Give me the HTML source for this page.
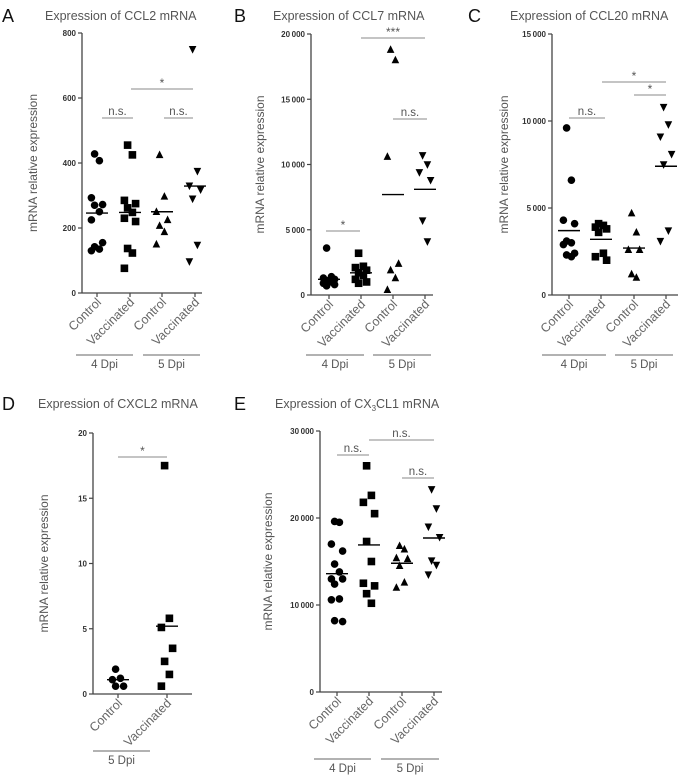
<!DOCTYPE html>
<html><head><meta charset="utf-8">
<style>
body{margin:0;background:#fff;}
svg{display:block;font-family:"Liberation Sans",sans-serif;}
</style></head>
<body>
<svg id="fig" width="696" height="780"></svg>
<script>
// ---- data ----
const A_ctrl4=[428,407,293,272,270,250,225,155,142,135,130];
const A_vacc4=[455,425,285,275,262,248,230,220,137,123,76];
const A_ctrl5=[425,297,250,225,207,188,150];
const A_vacc5=[750,375,330,318,290,148,97];
const A_means=[246,248,250,329];
const B_ctrl4=[3600,1400,1300,1200,1100,1000,900,800,700];
const B_vacc4=[3200,2200,2100,1900,1700,1500,1200,1000,900];
const B_ctrl5=[18800,18000,10600,2400,1900,1300,400];
const B_vacc5=[10700,10000,9400,8800,5700,4100];
const B_means=[1200,1700,7700,8100];
const C_ctrl4=[9600,6600,4300,4100,3100,3000,2900,2400,2300,2200];
const C_vacc4=[4100,4000,3900,3800,3600,2400,2200,2000];
const C_ctrl5=[4700,3600,2600,2600,1200,1000];
const C_vacc5=[10800,9800,9100,8100,7500,3700,3100];
const C_means=[3700,3200,2700,7400];
const D_ctrl=[1.9,1.2,1.1,0.6,0.6];
const D_vacc=[17.5,5.8,5.1,3.5,2.5,1.5,0.6];
const D_means=[1.1,5.2];
const E_ctrl4=[19600,19500,17000,16200,14700,13800,13000,13000,12400,10700,10600,8100,8200];
const E_vacc4=[26000,22600,21800,20500,17300,15000,12500,12200,11300,10200];
const E_ctrl5=[16800,16400,15400,15300,14500,12600,12000];
const E_vacc5=[23300,21100,19000,17800,15100,14600,13500];
const E_means=[13600,16900,14800,17700];
const A_ticks=[0,200,400,600,800];
const B_ticks=[0,5000,10000,15000,20000];
const C_ticks=[0,5000,10000,15000];
const D_ticks=[0,5,10,15,20];
const E_ticks=[0,10000,20000,30000];
const catLabels4=["Control","Vaccinated","Control","Vaccinated"];
const catLabels2=["Control","Vaccinated"];

const NS="http://www.w3.org/2000/svg";
const svg=document.getElementById('fig');
function mk(tag,attrs,parent,txt){const e=document.createElementNS(NS,tag);for(const k in attrs)e.setAttribute(k,attrs[k]);if(txt!==undefined)e.textContent=txt;(parent||svg).appendChild(e);return e;}
function fmt(v){if(v>=10000){const s=String(v);return s.slice(0,s.length-3)+"\u2009"+s.slice(-3);} if(v>=1000){return String(v).slice(0,1)+"\u2009"+String(v).slice(1);} return String(v);}

function marker(g,shape,x,y){
  const s=3.8;let e;
  if(shape==='circle') e=mk('circle',{cx:x,cy:y,r:s,fill:'#000'},g);
  else if(shape==='square') e=mk('rect',{x:x-s,y:y-s,width:2*s,height:2*s,fill:'#000'},g);
  else if(shape==='up') e=mk('polygon',{points:`${x},${y-s-0.6} ${x-s},${y+s-0.6} ${x+s},${y+s-0.6}`,fill:'#000'},g);
  else e=mk('polygon',{points:`${x},${y+s+0.6} ${x-s},${y-s+0.6} ${x+s},${y-s+0.6}`,fill:'#000'},g);
  
  
}

function panel(o){
  const g=mk('g',{});
  const y=v=>o.y0-(v/o.max)*(o.y0-o.yTop);
  mk('text',{x:o.letterX,y:o.titleY+2,'font-size':18,fill:'#111',},g,o.letter);
  const t=mk('text',{x:o.titleX,y:o.titleY,'font-size':12.5,fill:'#555',},g);
  t.innerHTML=o.title;
  mk('line',{x1:o.ax,y1:o.yTop,x2:o.ax,y2:o.y0,stroke:'#444','stroke-width':1.3,},g);
  mk('line',{x1:o.ax,y1:o.y0,x2:o.axEnd,y2:o.y0,stroke:'#444','stroke-width':1.3,},g);
  o.ticks.forEach(v=>{
    mk('line',{x1:o.ax-4,y1:y(v),x2:o.ax,y2:y(v),stroke:'#444','stroke-width':1.2},g);
    mk('text',{x:o.ax-6,y:y(v)+3,'font-size':8,'font-weight':'bold',fill:'#333','text-anchor':'end',},g,fmt(v));
  });
  const mid=(o.yTop+o.y0)/2;
  mk('text',{x:0,y:0,transform:`translate(${o.ylabX},${mid}) rotate(-90)`,'font-size':12,fill:'#555','text-anchor':'middle',},g,'mRNA relative expression');
  o.cats.forEach((cx,i)=>{
    mk('line',{x1:cx,y1:o.y0,x2:cx,y2:o.y0+4,stroke:'#444','stroke-width':1.2},g);
    mk('text',{x:0,y:0,transform:`translate(${cx+5},${o.y0+10}) rotate(-45)`,'font-size':12.5,fill:'#666','text-anchor':'end',},g,o.labels[i]);
    const arr=o.series[i];
    arr.forEach((v,j)=>{const off=(j%2===0?-1:1)*((j%4<2)?3:7);marker(g,o.shapes[i],cx+off*0.8,y(v));});
    const m=mk('line',{x1:cx-11,y1:y(o.means[i]),x2:cx+11,y2:y(o.means[i]),stroke:'#000','stroke-width':1.4},g);
    
    
  });
  o.sig.forEach(s=>{
    mk('line',{x1:s[0],y1:s[2],x2:s[1],y2:s[2],stroke:'#888','stroke-width':1,},g);
    const star=s[3]!=='n.s.';
    mk('text',{x:(s[0]+s[1])/2,y:s[2]-(star?2:3),'font-size':star?12:11.5,fill:'#555','text-anchor':'middle',},g,s[3]);
  });
  o.groups.forEach(gr=>{
    mk('line',{x1:gr[0],y1:o.gY,x2:gr[1],y2:o.gY,stroke:'#666','stroke-width':1,},g);
    mk('text',{x:(gr[0]+gr[1])/2,y:o.gY+13,'font-size':11.5,fill:'#555','text-anchor':'middle',},g,gr[2]);
  });
}
const sh4=['circle','square','up','down'];
panel({name:'panel-a',letter:'A',letterX:2,titleX:45,titleY:20,title:'Expression of CCL2 mRNA',ax:82,axEnd:202,yTop:33,y0:293,max:800,ticks:A_ticks,ylabX:37,
 cats:[97,130,162,195],labels:catLabels4,series:[A_ctrl4,A_vacc4,A_ctrl5,A_vacc5],means:A_means,shapes:sh4,
 sig:[[102,133,118,'n.s.'],[164,193,118,'n.s.'],[131,193,89,'*']],groups:[[76,133,'4 Dpi'],[143,200,'5 Dpi']],gY:355});
panel({name:'panel-b',letter:'B',letterX:234,titleX:273,titleY:20,title:'Expression of CCL7 mRNA',ax:311,axEnd:433,yTop:34,y0:295,max:20000,ticks:B_ticks,ylabX:264,
 cats:[329,361,393,425],labels:catLabels4,series:[B_ctrl4,B_vacc4,B_ctrl5,B_vacc5],means:B_means,shapes:sh4,
 sig:[[326,360,231,'*'],[361,425,38,'***'],[393,427,119,'n.s.']],groups:[[306,364,'4 Dpi'],[373,431,'5 Dpi']],gY:355});
panel({name:'panel-c',letter:'C',letterX:468,titleX:510,titleY:20,title:'Expression of CCL20 mRNA',ax:552,axEnd:678,yTop:34,y0:295,max:15000,ticks:C_ticks,ylabX:508,
 cats:[569,601,634,666],labels:catLabels4,series:[C_ctrl4,C_vacc4,C_ctrl5,C_vacc5],means:C_means,shapes:sh4,
 sig:[[569,605,118,'n.s.'],[602,666,82,'*'],[634,666,95,'*']],groups:[[542,606,'4 Dpi'],[615,673,'5 Dpi']],gY:355});
panel({name:'panel-d',letter:'D',letterX:2,titleX:38,titleY:408,title:'Expression of CXCL2 mRNA',ax:93,axEnd:192,yTop:433,y0:694,max:20,ticks:D_ticks,ylabX:48,
 cats:[118,167],labels:catLabels2,series:[D_ctrl,D_vacc],means:D_means,shapes:['circle','square'],
 sig:[[118,167,457,'*']],groups:[[93,150,'5 Dpi']],gY:751});
panel({name:'panel-e',letter:'E',letterX:234,titleX:275,titleY:408,title:'Expression of CX<tspan font-size="8" dy="3">3</tspan><tspan dy="-3">CL1 mRNA</tspan>',ax:320,axEnd:442,yTop:431,y0:692,max:30000,ticks:E_ticks,ylabX:272,
 cats:[337,369,402,434],labels:catLabels4,series:[E_ctrl4,E_vacc4,E_ctrl5,E_vacc5],means:E_means,shapes:sh4,
 sig:[[337,369,455,'n.s.'],[369,434,440,'n.s.'],[402,434,478,'n.s.']],groups:[[314,371,'4 Dpi'],[381,439,'5 Dpi']],gY:759});
</script>
</body></html>
